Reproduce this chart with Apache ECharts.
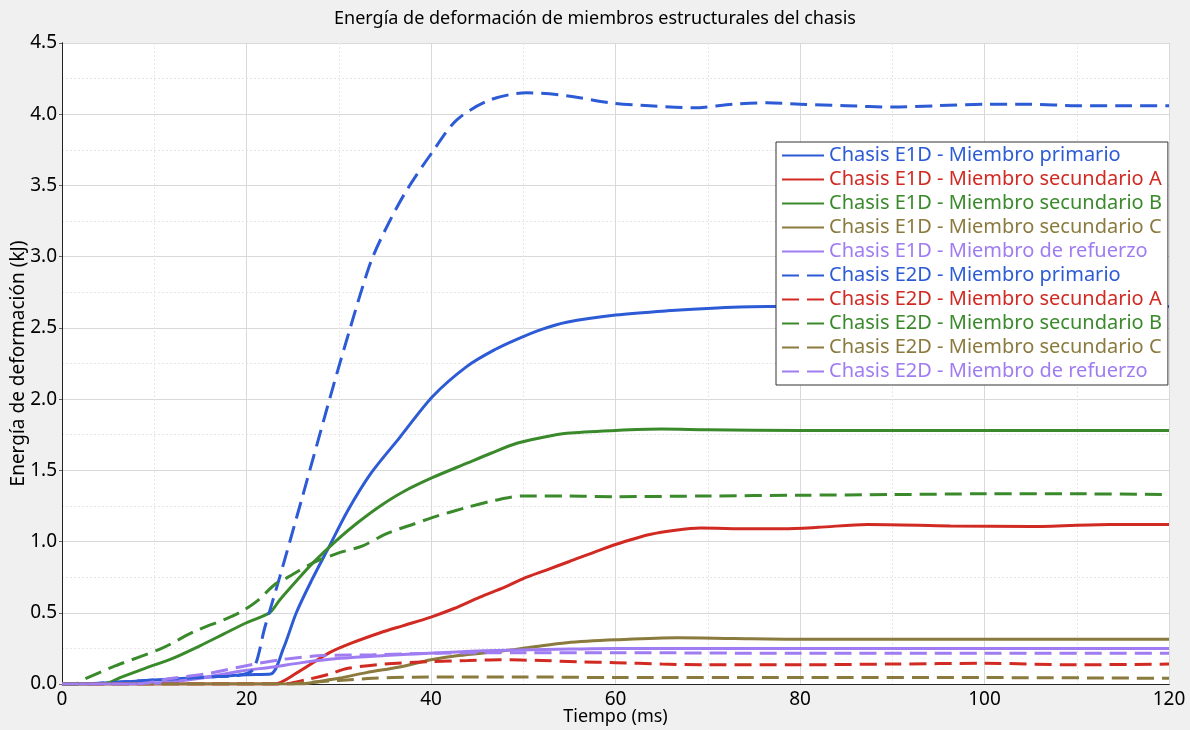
<!DOCTYPE html>
<html>
<head>
<meta charset="utf-8">
<script src="https://cdn.jsdelivr.net/npm/echarts@6.0.0/dist/echarts.min.js"></script>
<style>
  html, body { margin: 0; padding: 0; background: #f0f0f0; }
  #chart { width: 1190px; height: 730px; }
</style>
</head>
<body>
<div id="chart"></div>
<script>
// Strain energy (kJ) versus time (ms) for each chassis member, two chassis variants.
const titleText = 'Energía de deformación de miembros estructurales del chasis';
const xName = 'Tiempo (ms)';
const yName = 'Energía de deformación (kJ)';

const seriesNames = [
  'Chasis E1D - Miembro primario',
  'Chasis E1D - Miembro secundario A',
  'Chasis E1D - Miembro secundario B',
  'Chasis E1D - Miembro secundario C',
  'Chasis E1D - Miembro de refuerzo',
  'Chasis E2D - Miembro primario',
  'Chasis E2D - Miembro secundario A',
  'Chasis E2D - Miembro secundario B',
  'Chasis E2D - Miembro secundario C',
  'Chasis E2D - Miembro de refuerzo'
];

// [time ms, energy kJ]
const e1dPrimario = [[0,0],[4,0.005],[8,0.02],[12,0.035],[16,0.05],[20,0.065],[22.6,0.07],[24,0.25],[25.4,0.5],[27,0.72],[29,0.97],[31,1.22],[33.5,1.48],[36.6,1.73],[40.2,2.02],[43.9,2.23],[47,2.35],[49.3,2.42],[52,2.49],[54.7,2.54],[60,2.59],[65.6,2.62],[71,2.64],[76.4,2.65],[80,2.65],[90,2.65],[100,2.65],[110,2.65],[120,2.65]];
const e1dSecA = [[0,0],[23,0],[25.5,0.08],[29,0.22],[31.5,0.29],[34.5,0.36],[37,0.41],[40,0.47],[42.5,0.53],[45.3,0.61],[48,0.68],[50,0.74],[52.5,0.8],[55,0.86],[58.3,0.94],[61,1.0],[63.7,1.05],[66.5,1.08],[69.2,1.095],[74.6,1.09],[78.2,1.09],[82,1.1],[87.3,1.12],[96.3,1.11],[105,1.105],[113.6,1.12],[120,1.12]];
const e1dSecB = [[0,0],[4.4,0],[6.5,0.05],[9,0.11],[12,0.18],[15,0.27],[17.5,0.35],[20,0.43],[22.5,0.5],[23.6,0.59],[25.5,0.73],[27.2,0.85],[29.8,1.01],[32,1.13],[34.5,1.25],[37,1.35],[40.2,1.45],[43.9,1.55],[46.5,1.62],[49.3,1.69],[52,1.73],[54.7,1.76],[60,1.78],[65,1.79],[70,1.785],[80,1.78],[90,1.78],[100,1.78],[110,1.78],[120,1.78]];
const e1dSecC = [[0,0],[25.8,0],[28,0.02],[30,0.04],[33,0.08],[36.6,0.12],[40,0.17],[43,0.2],[47.5,0.23],[51,0.26],[54.7,0.29],[60,0.31],[66.7,0.325],[72.8,0.32],[80,0.315],[90,0.315],[100,0.315],[110,0.315],[120,0.315]];
const e1dRefuerzo = [[0,0],[8,0],[11,0.01],[15,0.04],[19.3,0.09],[22.9,0.12],[26,0.15],[30.1,0.18],[35,0.2],[41,0.22],[47,0.235],[55,0.245],[60,0.25],[80,0.25],[100,0.25],[120,0.25]];
const e2dPrimario = [[0,0],[4,0.005],[8,0.02],[12,0.035],[16,0.05],[19,0.06],[20.7,0.1],[22,0.4],[23.6,0.75],[26,1.3],[29.4,2.09],[31.2,2.49],[32.5,2.77],[33.7,3.0],[35.6,3.26],[37.4,3.47],[40.1,3.73],[42.8,3.96],[46.4,4.1],[50.4,4.15],[54.7,4.13],[59.4,4.08],[63.7,4.06],[68.4,4.045],[72.8,4.07],[76.4,4.08],[80,4.07],[85,4.06],[90,4.05],[95,4.06],[100,4.07],[105,4.07],[110,4.06],[115,4.06],[120,4.06]];
const e2dSecA = [[0,0],[24,0],[26.5,0.03],[29,0.07],[31,0.11],[35,0.14],[40,0.157],[44,0.165],[47.5,0.17],[52,0.165],[56,0.155],[60,0.15],[65,0.14],[70,0.135],[80,0.135],[90,0.14],[100,0.145],[110,0.135],[120,0.14]];
const e2dSecB = [[0,0],[1.5,0],[2.3,0.03],[5.9,0.13],[10.8,0.25],[14.4,0.37],[17.9,0.46],[19.5,0.51],[21.1,0.58],[23.1,0.7],[24.5,0.75],[27.2,0.85],[30,0.92],[32.6,0.97],[35,1.05],[36.6,1.09],[38,1.12],[40.2,1.17],[43.9,1.24],[47,1.29],[50,1.32],[55,1.32],[60,1.315],[70,1.32],[80,1.325],[90,1.33],[100,1.335],[110,1.335],[120,1.33]];
const e2dSecC = [[0,0],[24.5,0],[26.5,0.01],[30,0.025],[33.7,0.04],[38,0.048],[45,0.05],[50,0.05],[60,0.045],[80,0.045],[100,0.045],[120,0.04]];
const e2dRefuerzo = [[0,0],[8,0],[12,0.04],[15.5,0.07],[19.3,0.12],[23.6,0.17],[28.3,0.2],[33.7,0.205],[40,0.215],[50,0.22],[60,0.22],[80,0.215],[100,0.215],[120,0.215]];

const seriesData = [e1dPrimario, e1dSecA, e1dSecB, e1dSecC, e1dRefuerzo,
                    e2dPrimario, e2dSecA, e2dSecB, e2dSecC, e2dRefuerzo];
const memberColors = ['#2d5bd6', '#d12a22', '#3a8a2c', '#8b7a3e', '#a07cf2'];

const FONT = 'Noto Sans';

const series = seriesData.map((data, i) => ({
  name: seriesNames[i],
  type: 'line',
  data: data,
  showSymbol: false,
  symbol: 'none',
  smooth: 0.3,
  color: memberColors[i % 5],
  lineStyle: {
    width: 3,
    color: memberColors[i % 5],
    type: i < 5 ? 'solid' : [17, 8]
  },
  emphasis: { disabled: true },
  z: 2
}));

// plain frame lines along the top and right of the plot
const frameAxis = {
  min: 0,
  axisLine: { show: true, lineStyle: { color: '#222', width: 1 } },
  axisTick: { show: false },
  axisLabel: { show: false },
  splitLine: { show: false }
};

const chart = echarts.init(document.getElementById('chart'), null, { renderer: 'canvas' });
chart.setOption({
  animation: false,
  backgroundColor: '#f0f0f0',
  textStyle: { fontFamily: FONT },
  title: {
    text: titleText,
    left: 'center',
    top: 5,
    textStyle: { fontFamily: FONT, fontSize: 18, fontWeight: 'normal', color: '#000' }
  },
  grid: {
    left: 62, right: 21, top: 43, bottom: 46,
    outerBoundsMode: 'none',
    containLabel: false,
    show: true,
    backgroundColor: '#ffffff',
    borderWidth: 0
  },
  legend: {
    orient: 'vertical',
    left: 776,
    top: 142,
    selectedMode: false,
    backgroundColor: '#ffffff',
    borderColor: '#333333',
    borderWidth: 1,
    borderRadius: 0,
    padding: [3, 6, 3, 5],
    itemGap: 3,
    itemWidth: 42,
    itemHeight: 14,
    itemStyle: { opacity: 0 },
    data: seriesNames.map((n, i) => ({
      name: n,
      textStyle: { color: memberColors[i % 5] }
    })),
    textStyle: { fontFamily: FONT, fontSize: 20, lineHeight: 21, padding: [0, 0, 0, 0] }
  },
  xAxis: [{
    type: 'value',
    min: 0, max: 120, interval: 20,
    name: xName,
    nameLocation: 'middle',
    nameGap: 24,
    nameMoveOverlap: false,
    nameTextStyle: { fontFamily: FONT, fontSize: 18, color: '#000' },
    axisLine: { show: true, lineStyle: { color: '#000', width: 1 } },
    axisTick: { show: false },
    axisLabel: { fontFamily: FONT, fontSize: 19, color: '#000', margin: 6 },
    splitLine: { show: true, lineStyle: { color: '#d9d9d9', width: 1 } },
    minorTick: { show: false, splitNumber: 2 },
    minorSplitLine: { show: true, lineStyle: { color: '#e6e6e6', width: 1, type: [2, 2] } }
  }, Object.assign({ type: 'value', position: 'top', max: 120 }, frameAxis)],
  yAxis: [{
    type: 'value',
    min: 0, max: 4.5, interval: 0.5,
    name: yName,
    nameLocation: 'middle',
    nameGap: 34,
    nameMoveOverlap: false,
    nameRotate: 90,
    nameTextStyle: { fontFamily: FONT, fontSize: 19, color: '#000' },
    axisLine: { show: true, lineStyle: { color: '#000', width: 1 } },
    axisTick: { show: true, length: 3, lineStyle: { color: '#666' } },
    axisLabel: { fontFamily: FONT, fontSize: 19, color: '#000', margin: 5,
                 formatter: v => v.toFixed(1) },
    splitLine: { show: true, lineStyle: { color: '#d9d9d9', width: 1 } },
    minorTick: { show: false, splitNumber: 2 },
    minorSplitLine: { show: true, lineStyle: { color: '#e6e6e6', width: 1, type: [2, 2] } }
  }, Object.assign({ type: 'value', position: 'right', max: 4.5 }, frameAxis)],
  series: series
});
</script>
</body>
</html>
